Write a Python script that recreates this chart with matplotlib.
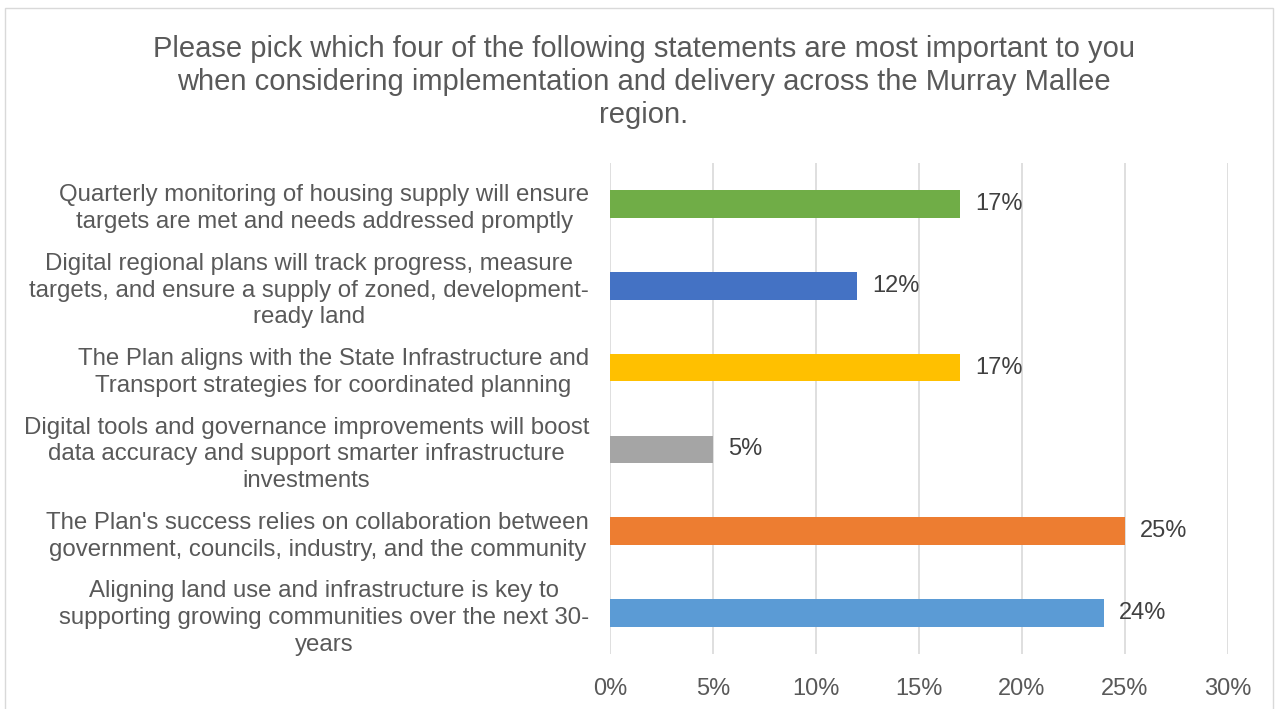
import matplotlib.pyplot as plt
from matplotlib.patches import Rectangle
from matplotlib.ticker import FuncFormatter

plt.rcParams['font.family'] = ['Liberation Sans', 'DejaVu Sans']

# data, top to bottom as in the chart
statements = [
    "Quarterly monitoring of housing supply will ensure\ntargets are met and needs addressed promptly",
    "Digital regional plans will track progress, measure\ntargets, and ensure a supply of zoned, development-\nready land",
    "The Plan aligns with the State Infrastructure and\nTransport strategies for coordinated planning",
    "Digital tools and governance improvements will boost\ndata accuracy and support smarter infrastructure\ninvestments",
    "The Plan's success relies on collaboration between\ngovernment, councils, industry, and the community",
    "Aligning land use and infrastructure is key to\nsupporting growing communities over the next 30-\nyears",
]
shares = [0.17, 0.12, 0.17, 0.05, 0.25, 0.24]
bar_colors = ["#70AD47", "#4472C4", "#FFC000", "#A5A5A5", "#ED7D31", "#5B9BD5"]
xticks = [0, 0.05, 0.10, 0.15, 0.20, 0.25, 0.30]

title = ("Please pick which four of the following statements are most important to you\n"
         "when considering implementation and delivery across the Murray Mallee\nregion.")

W, H = 1280, 709
fig = plt.figure(figsize=(W / 100, H / 100), dpi=100)
ax = fig.add_axes([610 / W, 1 - 654 / H, (1228 - 610) / W, (654 - 163) / H])

# light chart border
fig.patches.append(Rectangle((5 / W, -0.01), (1273 - 5) / W, 1 - 8 / H + 0.01,
                             transform=fig.transFigure, fill=False,
                             edgecolor="#D9D9D9", linewidth=1))

ypos = list(range(len(shares)))
ax.barh(ypos, shares, height=0.34, color=bar_colors, zorder=3)
for y, v in zip(ypos, shares):
    ax.text(v + 0.0072, y, f"{v:.0%}", va="center", ha="left",
            fontsize=17, color="#404040")

ax.set_ylim(len(shares) - 0.5, -0.5)
ax.set_xlim(0, 0.30)
ax.set_xticks(xticks)
ax.xaxis.set_major_formatter(FuncFormatter(lambda v, p: f"{v:.0%}"))
ax.set_yticks(ypos)
ax.set_yticklabels(statements, fontsize=17.3, color="#595959", linespacing=1.28)
for lbl in ax.get_yticklabels():
    lbl.set_multialignment("center")

ax.tick_params(axis="y", length=0, pad=15)
ax.tick_params(axis="x", length=0, pad=17, labelsize=17, labelcolor="#595959")
ax.grid(axis="x", color="#D9D9D9", linewidth=1.2, zorder=0)
for s in ax.spines.values():
    s.set_visible(False)

fig.text(644 / W, 1 - 82 / H, title, ha="center", va="center",
         fontsize=21, color="#595959", linespacing=1.22)

fig.savefig("out.png", dpi=100)
